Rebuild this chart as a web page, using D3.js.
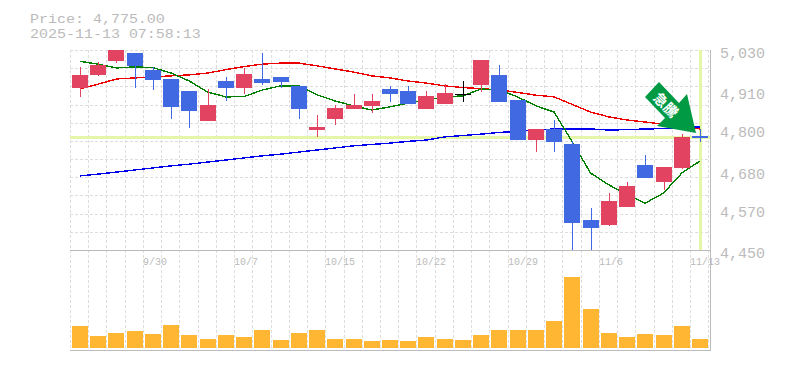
<!DOCTYPE html>
<html>
<head>
<meta charset="utf-8">
<script src="https://cdn.jsdelivr.net/npm/d3@7/dist/d3.min.js"></script>
<style>
html,body{margin:0;padding:0;background:#fff;}
svg{display:block;}
text{font-family:"Liberation Mono",monospace;fill:#bbb;}
</style>
</head>
<body>
<svg id="chart" width="785" height="370"></svg>
<script>
const dates=["9/24","9/25","9/26","9/29","9/30","10/1","10/2","10/3","10/6","10/7","10/8","10/9","10/10","10/14","10/15","10/16","10/17","10/20","10/21","10/22","10/23","10/24","10/27","10/28","10/29","10/30","10/31","11/4","11/5","11/6","11/7","11/10","11/11","11/12","11/13"];
const labelledDates=["9/30","10/7","10/15","10/22","10/29","11/6","11/13"];
const open =[4920,4958,4998,5021,4972,4946,4911,4824,4940,4920,4946,4952,4926,4798,4830,4859,4868,4917,4911,4859,4873,4902,4929,4958,4885,4769,4801,4757,4537,4522,4575,4697,4647,4688,4781];
const high =[4981,4995,5030,5021,4981,4946,4911,4917,4952,4978,5021,4952,4926,4842,4871,4902,4902,4926,4926,4911,4931,4940,5001,4987,4885,4801,4827,4766,4572,4615,4647,4726,4691,4786,4801];
const low  =[4894,4955,4992,4920,4914,4830,4804,4824,4882,4902,4929,4920,4830,4778,4813,4859,4847,4879,4873,4859,4873,4879,4908,4879,4769,4734,4734,4450,4450,4520,4575,4659,4624,4685,4763];
const close=[4958,4987,5030,4984,4943,4865,4853,4871,4920,4960,4934,4937,4859,4807,4862,4871,4882,4902,4873,4897,4905,4902,5001,4879,4769,4801,4763,4528,4514,4592,4636,4659,4691,4778,4775];
const maGreen=[4997,4989,4978,4981,4979,4963,4940,4908,4894,4895,4914,4926,4926,4900,4882,4868,4856,4865,4876,4885,4894,4897,4917,4914,4894,4868,4850,4763,4673,4639,4610,4586,4615,4673,4708];
const maRed=[4917,4931,4946,4949,4952,4955,4958,4963,4973,4982,4989,4992,4992,4984,4975,4966,4955,4949,4940,4934,4926,4921,4918,4914,4907,4899,4894,4872,4850,4836,4827,4821,4815,4808,4801];
const maBlue=[4665,4670,4676,4682,4688,4694,4699,4705,4711,4717,4723,4728,4734,4740,4746,4752,4756,4760,4765,4769,4778,4782,4786,4791,4794,4798,4801,4801,4801,4798,4799,4801,4802,4804,4807];
const volume=[2200,1200,1500,1700,1400,2300,1300,900,1300,1100,1800,800,1500,1800,900,900,700,800,700,1100,900,800,1300,1800,1800,1800,2700,7100,3900,1500,1100,1400,1300,2200,900];
const priceTicks=[5030,4910,4800,4680,4570,4450];
const titleLines=["Price: 4,775.00","2025-11-13 07:58:13"];
const lastPrice=4775;
const arrowLabel="急騰";

const svg=d3.select("#chart");
const idx=d3.range(dates.length);
const x=d3.scaleLinear().domain([0,dates.length-1]).range([80,700]);
const y=d3.scaleLinear().domain([4450,5030]).range([250,50]);
const v=d3.scaleLinear().domain([0,7100]).range([348,277]);
const gridX=d3.range(dates.length+1).map(i=>Math.round(x(i)-10));
const gridY=d3.range(12).map(i=>y.invert(50+i*200/11));
const snap=n=>Math.round(n);

const grid=svg.append("g").attr("stroke","#ddd").attr("stroke-dasharray","3 2").attr("shape-rendering","crispEdges");
grid.selectAll(".gx").data(gridX).join("line").attr("x1",d=>d+.5).attr("x2",d=>d+.5).attr("y1",50).attr("y2",350);
grid.selectAll(".gy").data(gridY).join("line").attr("x1",70).attr("x2",710).attr("y1",d=>snap(y(d))+.5).attr("y2",d=>snap(y(d))+.5);

// last price crosshair
const hl="#e5f6a8";
svg.append("rect").attr("x",70).attr("width",640).attr("y",snap(y(lastPrice))-2).attr("height",3).attr("fill",hl);
svg.append("rect").attr("x",snap(x(34))-1).attr("width",3).attr("y",50).attr("height",200).attr("fill",hl);

// frame
const frame=svg.append("g").attr("stroke","#bbb").attr("shape-rendering","crispEdges");
frame.append("line").attr("x1",70).attr("x2",711).attr("y1",250.5).attr("y2",250.5);
frame.append("line").attr("x1",70).attr("x2",711).attr("y1",350.5).attr("y2",350.5);
frame.append("line").attr("x1",710.5).attr("x2",710.5).attr("y1",50).attr("y2",351);

// moving averages
const lineOf=s=>d3.line().x((d,i)=>x(i)).y(d=>y(d))(s);
[[maBlue,"#0000ee"],[maRed,"#ee0000"],[maGreen,"#008000"]].forEach(([s,c])=>{
  svg.append("path").attr("d",lineOf(s)).attr("fill","none").attr("stroke",c).attr("stroke-width",1.4).attr("shape-rendering","crispEdges");
});

// candles
const colorOf=i=>close[i]>open[i]?"#e24360":close[i]<open[i]?"#4169e1":"#000";
const candles=svg.append("g").attr("shape-rendering","crispEdges");
candles.selectAll(".wick").data(idx).join("rect")
  .attr("x",i=>snap(x(i))).attr("width",1)
  .attr("y",i=>snap(y(high[i]))).attr("height",i=>Math.max(1,snap(y(low[i]))-snap(y(high[i]))))
  .attr("fill",colorOf);
candles.selectAll(".body").data(idx).join("rect")
  .attr("x",i=>snap(x(i))-8).attr("width",16)
  .attr("y",i=>snap(y(Math.max(open[i],close[i]))))
  .attr("height",i=>Math.max(1,snap(y(Math.min(open[i],close[i])))-snap(y(Math.max(open[i],close[i])))))
  .attr("fill",colorOf);

// volume
svg.append("g").attr("shape-rendering","crispEdges").selectAll("rect").data(idx).join("rect")
  .attr("x",i=>snap(x(i))-8).attr("width",16)
  .attr("y",i=>snap(v(volume[i]))).attr("height",i=>348-snap(v(volume[i])))
  .attr("fill","#ffb733");

// arrow annotation, anchored to the last candle
const tipX=x(34)-4, tipY=y(lastPrice)-5;
const arrowShape=[[-37,-51],[-51,-36],[-31,-15],[-39,-7],[0,0],[-9,-39],[-17,-30]];
const arrow=svg.append("g").attr("transform",`translate(${tipX},${tipY})`);
arrow.append("path").attr("d",d3.line()(arrowShape)+"Z").attr("fill","#009944");
arrow.append("text").text(arrowLabel)
  .attr("transform","translate(-29.5,-28.5) rotate(45)")
  .attr("text-anchor","middle").attr("dominant-baseline","central")
  .attr("font-size",14).attr("font-weight",700)
  .style("font-family","'Noto Sans CJK JP'").style("fill","#fff");

// texts
svg.selectAll(".ttl").data(titleLines).join("text")
  .attr("transform",(d,i)=>`translate(30,${23+i*15}) scale(1.154,1)`)
  .attr("font-size",13).text(d=>d);
svg.selectAll(".pt").data(priceTicks).join("text")
  .attr("x",720).attr("y",d=>y(d)+8).attr("font-size",15).text(d3.format(","));
svg.selectAll(".dt").data(labelledDates).join("text")
  .attr("x",d=>gridX[dates.indexOf(d)]).attr("y",265).attr("font-size",10).text(d=>d);
</script>
</body>
</html>
